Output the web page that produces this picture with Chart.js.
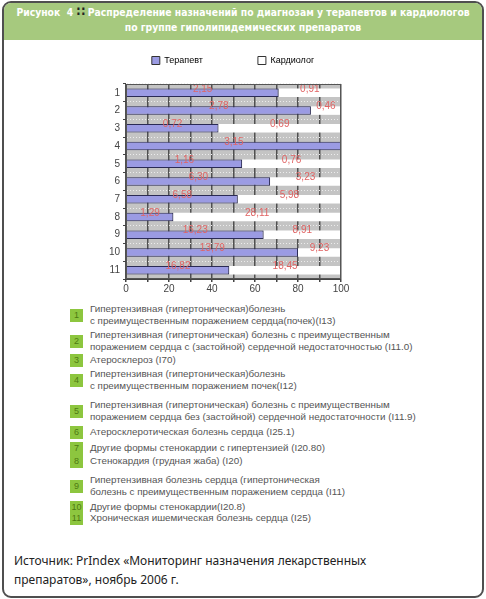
<!DOCTYPE html>
<html>
<head>
<meta charset="utf-8">
<script src="https://cdn.jsdelivr.net/npm/chart.js@4"></script>
<style>
  body { margin: 0; width: 486px; height: 599px; background: #fff; position: relative; overflow: hidden;
         font-family: "Liberation Sans", Arial, sans-serif; }
  #frame { position: absolute; left: 2px; top: 1px; width: 482px; height: 597px; box-sizing: border-box;
           border: 2px solid #4f4f4f; border-radius: 9px; overflow: hidden; }
  #head { position: absolute; left: 0; top: 0; right: 0; height: 37px; background: #a6c97e; color: #fff;
          text-align: center; padding-top: 2px; box-sizing: border-box;
          font: bold 10.3px/15px "Liberation Sans Narrow", "DejaVu Sans Condensed", sans-serif; }
  #head .dots { color: #222; font-size: 13px; line-height: 10px; }
  #chartBox { position: absolute; left: 10px; top: 45px; width: 446px; height: 255px; }
  .item { position: absolute; left: 70px; font-size: 9.8px; line-height: 12px; color: #555; }
  .item .num { position: absolute; left: 0; height: 13px; min-width: 13px; padding: 0 1px; box-sizing: border-box;
               background: #8dc63f; color: #4d7a12; font-size: 9px; line-height: 13px; text-align: center; }
  .item .txt { position: absolute; left: 20px; top: 0; white-space: nowrap; }
  #source { position: absolute; left: 14px; top: 551px; font: 12px/19px "Noto Sans", "Open Sans", sans-serif; color: #222; }
</style>
</head>
<body>
<div id="frame">
  <div id="head">Рисунок&nbsp; 4 <span class="dots">∷</span> Распределение назначений по диагнозам у терапевтов и кардиологов<br>по группе гиполипидемических препаратов</div>
</div>
<div id="chartBox"><canvas id="myChart"></canvas></div>
<div id="items"></div>
<div id="source">Источник: PrIndex «Мониторинг назначения лекарственных<br>препаратов», ноябрь 2006 г.</div>

<script>
function Get(id) {
    return document.getElementById(id);
}

// data
const categories = ['1', '2', '3', '4', '5', '6', '7', '8', '9', '10', '11'];
const seriesNames = ['Терапевт', 'Кардиолог'];
const therapistShare = [71, 86, 43, 100, 54, 67, 52, 22, 64, 80, 48];
const cardiologistShare = [29, 14, 57, 0, 46, 33, 48, 78, 36, 20, 52];
const therapistLabels = ['2,15', '2,78', '0,72', '3,15', '1,16', '6,30', '6,58', '1,29', '16,23', '13,79', '16,82'];
const cardiologistLabels = ['0,91', '0,46', '0,69', '', '0,76', '3,23', '5,98', '28,11', '8,91', '9,23', '18,45'];
const xTickLabels = [0, 20, 40, 60, 80, 100];

const diagnoses = [
    ['Гипертензивная (гипертоническая)болезнь', 'с преимущественным поражением сердца(почек)(I13)'],
    ['Гипертензивная (гипертоническая) болезнь с преимущественным', 'поражением сердца с (застойной) сердечной недостаточностью (I11.0)'],
    ['Атеросклероз (I70)'],
    ['Гипертензивная (гипертоническая)болезнь', 'с преимущественным поражением  почек(I12)'],
    ['Гипертензивная (гипертоническая) болезнь с преимущественным', 'поражением сердца без (застойной) сердечной недостаточности (I11.9)'],
    ['Атеросклеротическая болезнь сердца (I25.1)'],
    ['Другие формы стенокардии с гипертензией (I20.80)'],
    ['Стенокардия (грудная жаба) (I20)'],
    ['Гипертензивная болезнь сердца (гипертоническая', 'болезнь с преимущественным поражением сердца (I11)'],
    ['Другие формы стенокардии(I20.8)'],
    ['Хроническая ишемическая болезнь сердца (I25)']
];
const itemTops = [303, 329, 354, 368, 399, 426, 442, 455, 474, 501, 512];

const items = Get('items');
diagnoses.forEach((lines, i) => {
    const d = document.createElement('div');
    d.className = 'item';
    d.style.top = itemTops[i] + 'px';
    const badgeTop = Math.round((lines.length * 12 - 13) / 2);
    d.innerHTML = '<span class="num" style="top:' + badgeTop + 'px">' + categories[i] + '</span><span class="txt">' + lines.join('<br>') + '</span>';
    items.appendChild(d);
});

// grey plot area + frame
const plotBack = {
    id: 'plotBack',
    beforeDraw(chart) {
        const a = chart.chartArea, c = chart.ctx;
        c.save();
        c.fillStyle = '#c4c4c4';
        c.fillRect(a.left, a.top, a.right - a.left, a.bottom - a.top);
        c.restore();
    },
    afterDraw(chart) {
        const a = chart.chartArea, c = chart.ctx;
        c.save();
        c.strokeStyle = '#555';
        c.lineWidth = 1;
        c.strokeRect(a.left + 0.5, a.top + 0.5, a.right - a.left - 1, a.bottom - a.top - 1);
        c.restore();
    }
};

// red value labels on every segment
const valueLabels = {
    id: 'valueLabels',
    afterDatasetsDraw(chart) {
        const c = chart.ctx;
        const texts = [therapistLabels, cardiologistLabels];
        c.save();
        c.font = '10px "Liberation Sans", Arial, sans-serif';
        c.fillStyle = '#e06464';
        c.textAlign = 'center';
        c.textBaseline = 'middle';
        chart.data.datasets.forEach((ds, i) => {
            chart.getDatasetMeta(i).data.forEach((bar, j) => {
                const t = texts[i][j];
                if (!t) return;
                c.fillText(t, (bar.x + bar.base) / 2, bar.y - 4);
            });
        });
        c.restore();
    }
};

// a bit more room under the legend
const legendRoom = {
    id: 'legendRoom',
    beforeInit(chart) {
        const fit = chart.legend.fit;
        chart.legend.fit = function () {
            fit.bind(chart.legend)();
            this.height += 9;
        };
    }
};

const ctx = Get('myChart').getContext('2d');
const myChart = new Chart(ctx, {
    type: 'bar',
    data: {
        labels: categories,
        datasets: [{
            label: seriesNames[0],
            data: therapistShare,
            backgroundColor: '#9b9be3',
            borderColor: '#2b2b55',
            borderWidth: 1,
            barPercentage: 0.48,
            categoryPercentage: 1
        }, {
            label: seriesNames[1],
            data: cardiologistShare,
            backgroundColor: '#ffffff',
            borderWidth: 0,
            barPercentage: 0.48,
            categoryPercentage: 1
        }]
    },
    options: {
        indexAxis: 'y',
        responsive: true,
        maintainAspectRatio: false,
        animation: false,
        layout: { padding: { top: 1, left: 0, right: 0, bottom: 0 } },
        plugins: {
            tooltip: { enabled: false },
            legend: {
                position: 'top',
                labels: {
                    boxWidth: 8,
                    boxHeight: 8,
                    padding: 10,
                    color: '#555',
                    font: { size: 9, family: '"Liberation Sans", Arial, sans-serif' },
                    generateLabels(chart) {
                        return chart.data.datasets.map((ds, i) => ({
                            text: i === 0 ? ds.label + '\u2003\u2003\u2003\u2003\u2003' : ds.label,
                            fillStyle: ds.backgroundColor,
                            strokeStyle: '#333',
                            lineWidth: 1,
                            hidden: false,
                            datasetIndex: i
                        }));
                    }
                }
            }
        },
        scales: {
            x: {
                stacked: true,
                min: 0,
                max: 100,
                ticks: {
                    stepSize: 10,
                    autoSkip: false,
                    maxRotation: 0,
                    padding: 1,
                    color: '#444',
                    font: { size: 10, family: '"Liberation Sans", Arial, sans-serif' },
                    callback: (v) => xTickLabels.includes(v) ? String(v) : ''
                },
                grid: { color: '#505050', lineWidth: 1.5, tickLength: 3, tickColor: '#444' },
                border: { color: '#444' },
                afterFit(scale) { scale.height = 21; }
            },
            y: {
                stacked: true,
                ticks: {
                    padding: 3,
                    color: '#444',
                    font: { size: 10, family: '"Liberation Sans", Arial, sans-serif' }
                },
                grid: { color: '#ececec', lineWidth: 1, tickLength: 3, tickColor: '#444' },
                border: { color: '#444', dash: [1, 2] },
                afterFit(scale) { scale.width = 116; }
            },
            yRight: {
                position: 'right',
                type: 'linear',
                display: true,
                grid: { display: false },
                ticks: { display: false },
                border: { display: false },
                afterFit(scale) { scale.width = 115; }
            }
        }
    },
    plugins: [plotBack, valueLabels, legendRoom]
});
</script>
</body>
</html>
